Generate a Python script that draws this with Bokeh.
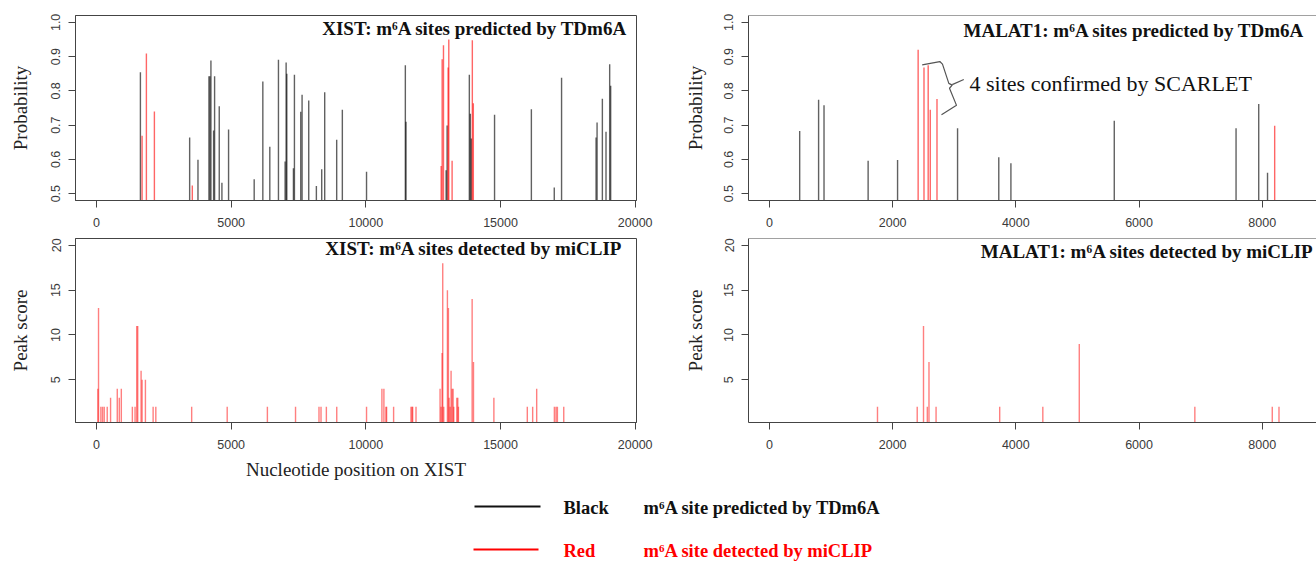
from bokeh.plotting import figure
from bokeh.layouts import column, row
from bokeh.models import Range1d, FixedTicker, Span, Label, PrintfTickFormatter
from bokeh.core.properties import value
from bokeh.embed import file_html
from bokeh.resources import INLINE

# ---------------- data ----------------
xist_pred_black_pos = [1630, 3458, 3767, 4174, 4211, 4248, 4347, 4384, 4557, 4656,
                       4903, 5854, 6175, 6434, 6755, 7002, 7040, 7065, 7311, 7348,
                       7583, 7632, 7879, 8163, 8361, 8472, 8917, 9127, 10025, 11466,
                       11490, 12980, 13017, 13842, 13879, 13916, 14778, 16145, 16995, 17266,
                       18547, 18584, 18781, 18916, 19052, 19089]
xist_pred_black_prob = [0.854, 0.664, 0.599, 0.843, 0.843, 0.889, 0.684, 0.843, 0.755, 0.532,
                        0.687, 0.542, 0.827, 0.637, 0.891, 0.594, 0.883, 0.850, 0.574, 0.847,
                        0.739, 0.789, 0.772, 0.522, 0.571, 0.796, 0.657, 0.745, 0.564, 0.875,
                        0.710, 0.568, 0.699, 0.847, 0.733, 0.661, 0.730, 0.746, 0.518, 0.838,
                        0.664, 0.708, 0.777, 0.681, 0.878, 0.815]
xist_pred_red_pos = [1692, 1852, 2149, 3557, 12796, 12833, 12882, 13054, 13079, 13202, 13953, 13990]
xist_pred_red_prob = [0.669, 0.909, 0.740, 0.524, 0.581, 0.892, 0.933, 0.868, 0.950, 0.596, 0.948, 0.764]

xist_miclip_pos = [50, 75, 162, 224, 286, 398, 522, 771, 846, 921,
                   1331, 1431, 1493, 1530, 1655, 1692, 1816, 2102, 2202, 3533,
                   4852, 6344, 7389, 8260, 8335, 8534, 8919, 10025, 10596, 10670,
                   10745, 10770, 11030, 11675, 11713, 11738, 11862, 12755, 12792, 12829,
                   12854, 12892, 13028, 13065, 13090, 13127, 13164, 13202, 13239, 13264,
                   13376, 13413, 13437, 13946, 13996, 14753, 15994, 16193, 16342, 16999,
                   17061, 17111, 17347]
xist_miclip_score = [4, 13, 2, 2, 2, 2, 3, 4, 3, 4,
                     2, 2, 11, 11, 6, 5, 5, 2, 2, 2,
                     2, 2, 2, 2, 2, 2, 2, 2, 4, 4,
                     2, 2, 2, 2, 2, 2, 2, 4, 2, 8,
                     18, 2, 15, 13, 3, 2, 6, 4, 4, 2,
                     3, 3, 2, 14, 7, 3, 2, 2, 4, 2,
                     2, 2, 2]

malat1_pred_black_pos = [491, 798, 886, 1602, 2080, 3054, 3723, 3920, 5598, 7575, 7943, 8086]
malat1_pred_black_prob = [0.683, 0.774, 0.758, 0.596, 0.598, 0.691, 0.606, 0.589, 0.713, 0.691, 0.762, 0.561]
malat1_pred_red_pos = [2414, 2509, 2577, 2611, 2720, 8202]
malat1_pred_red_prob = [0.920, 0.868, 0.875, 0.745, 0.776, 0.698]

malat1_miclip_pos = [1754, 2399, 2501, 2563, 2590, 2705, 3738, 4438, 5030, 6906, 8163, 8272]
malat1_miclip_score = [2, 2, 11, 2, 7, 2, 2, 2, 9, 2, 2, 2]

xist_ticks = [0, 5000, 10000, 15000, 20000]
malat1_ticks = [0, 2000, 4000, 6000, 8000]
prob_ticks = [0.5, 0.6, 0.7, 0.8, 0.9, 1.0]
score_ticks = [5, 10, 15, 20]

title_tl = "XIST: m\u2076A sites predicted by TDm6A"
title_bl = "XIST: m\u2076A sites detected by miCLIP"
title_tr = "MALAT1: m\u2076A sites predicted by TDm6A"
title_br = "MALAT1: m\u2076A sites detected by miCLIP"
note_text = "4 sites confirmed by SCARLET"
legend_keys = ["Black", "Red"]
legend_descs = ["m\u2076A site predicted by TDm6A", "m\u2076A site detected by miCLIP"]

# ---------------- style ----------------
SERIF = "Liberation Serif"
SANS = "Liberation Sans"
FRAME = "#444444"
BAR_BLACK = "#000000"
BAR_RED = "#ff0000"

XIST_XR = (-780, 20048)
MAL_XR = (-340, 8881)
PROB_YR = (0.48, 1.02)
SCORE_YR = (0.24, 20.76)


def panel(width, height, xr, yr, bl, br, bt, bb, xticks, yticks, ylabel,
          xlabel=None, outline=True, ystand=8, ylab_stand=18, xstand=10, xlab_stand=7,
          yfmt=None):
    p = figure(width=width, height=height, x_range=Range1d(*xr), y_range=Range1d(*yr),
               output_backend="svg", toolbar_location=None,
               min_border_left=bl, min_border_right=br, min_border_top=bt, min_border_bottom=bb)
    p.grid.visible = False
    p.outline_line_color = FRAME if outline else None
    p.outline_line_width = 1
    for ax in (p.xaxis[0], p.yaxis[0]):
        ax.axis_line_color = FRAME
        ax.axis_line_width = 1
        ax.major_tick_line_color = FRAME
        ax.major_tick_in = 0
        ax.major_tick_out = 7
        ax.minor_tick_line_color = None
        ax.major_label_text_font = SANS
        ax.major_label_text_font_size = "12.5px"
        ax.major_label_text_color = "#3a3a3a"
        ax.axis_label_text_font = SERIF
        ax.axis_label_text_font_style = "normal"
        ax.axis_label_text_font_size = "19px"
        ax.axis_label_text_color = "#222222"
    p.xaxis[0].ticker = FixedTicker(ticks=xticks)
    p.yaxis[0].ticker = FixedTicker(ticks=yticks)
    if yfmt:
        p.yaxis[0].formatter = PrintfTickFormatter(format=yfmt)
    p.yaxis[0].major_label_orientation = "vertical"
    p.yaxis[0].major_label_standoff = ystand
    p.yaxis[0].axis_label = ylabel
    p.yaxis[0].axis_label_standoff = ylab_stand
    p.xaxis[0].major_label_standoff = xstand
    if xlabel:
        p.xaxis[0].axis_label = xlabel
        p.xaxis[0].axis_label_standoff = xlab_stand
    if not outline:
        p.add_layout(Span(location=yr[1], dimension="width", line_color=FRAME, line_width=1))
    return p


def bars(p, pos, vals, color, alpha):
    p.segment(x0=pos, y0=[0] * len(pos), x1=pos, y1=vals,
              line_color=color, line_alpha=alpha, line_width=1.4)


def title(p, x, y, txt, align, size="19px"):
    p.text(x=[x], y=[y], text=[txt], text_font=value(SERIF), text_font_style="bold",
           text_font_size=size, text_align=align, text_baseline="middle", text_color="#111111")


# ---- top-left: XIST TDm6A ----
tl = panel(680, 234, XIST_XR, PROB_YR, 75, 44, 15, 34, xist_ticks, prob_ticks, "Probability",
           yfmt="%.1f")
bars(tl, xist_pred_black_pos, xist_pred_black_prob, BAR_BLACK, 0.62)
bars(tl, xist_pred_red_pos, xist_pred_red_prob, BAR_RED, 0.6)
title(tl, 19714, 0.982, title_tl, "right")

# ---- top-right: MALAT1 TDm6A ----
tr = panel(636, 234, MAL_XR, PROB_YR, 68, 0, 12, 32, malat1_ticks, prob_ticks, "Probability",
           outline=False, ylab_stand=16, yfmt="%.1f")
bars(tr, malat1_pred_black_pos, malat1_pred_black_prob, BAR_BLACK, 0.62)
bars(tr, malat1_pred_red_pos, malat1_pred_red_prob, BAR_RED, 0.6)
title(tr, 3150, 0.977, title_tr, "left", size="19px")
tr.text(x=[3248], y=[0.822], text=[note_text], text_font=value(SERIF), text_font_size="22px",
        text_align="left", text_baseline="alphabetic", text_color="#111111")
brace_x = [2480, 2766, 2809, 2912, 2967, 2923, 3037, 2793]
brace_y = [0.8759, 0.8856, 0.8779, 0.8219, 0.8168, 0.8077, 0.7577, 0.7301]
tr.line(x=brace_x, y=brace_y, line_color="#555555", line_width=1.2)
tr.line(x=[2967, 3155], y=[0.8182, 0.8333], line_color="#555555", line_width=1.2)

# ---- bottom-left: XIST miCLIP ----
bl = panel(680, 251, XIST_XR, SCORE_YR, 75, 44, 4, 63, xist_ticks, score_ticks, "Peak score",
           xlabel="Nucleotide position on XIST")
bars(bl, xist_miclip_pos, xist_miclip_score, BAR_RED, 0.5)
title(bl, 19528, 19.70, title_bl, "right")

# ---- bottom-right: MALAT1 miCLIP ----
br = panel(636, 251, MAL_XR, SCORE_YR, 68, 0, 4, 58, malat1_ticks, score_ticks, "Peak score",
           outline=False, ylab_stand=16)
bars(br, malat1_miclip_pos, malat1_miclip_score, BAR_RED, 0.5)
title(br, 3430, 19.27, title_br, "left")
br.add_layout(Label(x=4627, y=-5.08, text="Nucleotide position on MALAT1",
                    text_font=SERIF, text_font_size="19px", text_color="#222222",
                    text_align="center", text_baseline="middle"))

# ---- legend strip ----
leg = figure(width=1316, height=76, x_range=Range1d(0, 1316), y_range=Range1d(561, 485),
             output_backend="svg", toolbar_location=None, min_border=0,
             x_axis_location=None, y_axis_location=None)
leg.grid.visible = False
leg.outline_line_color = None
leg_colors = ["#111111", "#ff0000"]
leg.segment(x0=[474, 473], y0=[506, 549], x1=[540, 538], y1=[506, 549],
            line_color=leg_colors, line_width=2)
leg.text(x=[563, 563], y=[507, 550], text=legend_keys, text_color=leg_colors,
         text_font=value(SERIF), text_font_style="bold", text_font_size="18.5px",
         text_baseline="middle")
leg.text(x=[643, 643], y=[507, 550], text=legend_descs, text_color=leg_colors,
         text_font=value(SERIF), text_font_style="bold", text_font_size="18.5px",
         text_baseline="middle")

layout = column(row(tl, tr), row(bl, br), leg)
open("out.html", "w").write(file_html(layout, INLINE))
